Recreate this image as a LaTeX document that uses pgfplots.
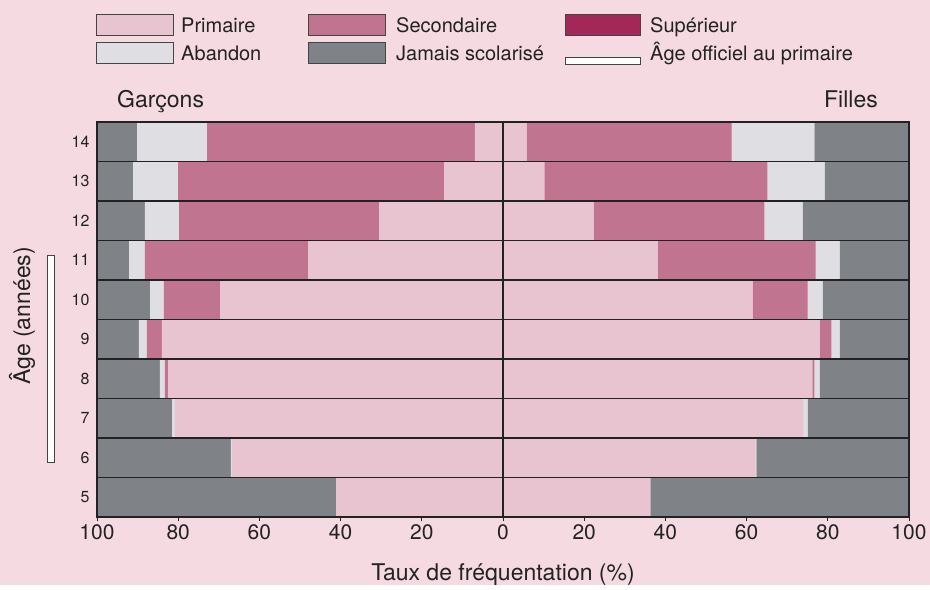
\documentclass[border=0pt]{standalone}
\usepackage{fontspec}
\setmainfont{TeX Gyre Heros}
\usepackage{pgfplots}
\usepackage{pgfplotstable}
\pgfplotsset{compat=1.18}
\definecolor{bg}{HTML}{F6DAE2}
\definecolor{cPrim}{HTML}{E7C4D0}
\definecolor{cSec}{HTML}{C1748F}
\definecolor{cSup}{HTML}{A32858}
\definecolor{cAb}{HTML}{DFDEE2}
\definecolor{cJam}{HTML}{7F8287}
\definecolor{cLine}{HTML}{222222}
\definecolor{cBox}{HTML}{444444}

\pgfplotstableread{
age prim sec sup ab jam
5  41.1 0    0 0    58.9
6  66.8 0    0 0.2  33.0
7  80.8 0    0 0.7  18.5
8  82.5 0.8  0 1.2  15.5
9  84.0 3.7  0 2.0  10.3
10 69.7 13.8 0 3.4  13.1
11 48.0 40.2 0 3.9  7.9
12 30.5 49.3 0 8.4  11.8
13 14.5 65.5 0 11.1 8.9
14 6.9  66.0 0 17.2 9.9
}\boys

\pgfplotstableread{
age prim sec sup ab jam
5  36.3 0    0 0    63.7
6  62.2 0    0 0.2  37.6
7  74.0 0    0 1.0  25.0
8  76.2 0.5  0 1.3  22.0
9  78.0 2.9  0 2.0  17.1
10 61.5 13.5 0 3.7  21.3
11 38.1 38.9 0 5.9  17.1
12 22.3 42.1 0 9.4  26.2
13 10.2 54.9 0 14.1 20.8
14 5.8  50.5 0 20.4 23.3
}\girls

\pgfplotsset{
  myax/.style={
    scale only axis, width=812pt, height=395pt,
    at={(97pt,68pt)}, anchor=south west,
    xmin=-100, xmax=100, ymin=4.5, ymax=14.5,
    xbar stacked, bar width=1,
    /pgf/number format/assume math mode=true,
  },
}

\begin{document}
\begin{tikzpicture}[x=1pt,y=1pt]
\fill[bg] (0,0) rectangle (930,585);

% Boys (left)
\begin{axis}[myax, hide axis]
\addplot[fill=cPrim, draw=none] table[y=age, x expr=-\thisrow{prim}] {\boys};
\addplot[fill=cSec,  draw=none] table[y=age, x expr=-\thisrow{sec}]  {\boys};
\addplot[fill=cSup,  draw=none] table[y=age, x expr=-\thisrow{sup}]  {\boys};
\addplot[fill=cAb,   draw=none] table[y=age, x expr=-\thisrow{ab}]   {\boys};
\addplot[fill=cJam,  draw=none] table[y=age, x expr=-\thisrow{jam}]  {\boys};
\end{axis}

% Girls (right) + frame
\begin{axis}[myax, axis on top, clip=false,
  axis line style={line width=2.4pt, color=cLine},
  xtick={-100,-80,...,100},
  xticklabels={100,80,60,40,20,0,20,40,60,80,100},
  xtick pos=bottom, ytick pos=left,
  tick align=outside, major tick length=4pt,
  xtick style={line width=0.8pt, color=cLine},
  ytick={5,...,14}, ytick style={draw=none},
  xticklabel style={font=\fontsize{21}{24}\selectfont, text=cLine},
  yticklabel style={font=\fontsize{16}{19}\selectfont, text=cLine},
  extra y ticks={5.5,6.5,...,13.5}, extra y tick labels={},
  extra y tick style={grid=major, major grid style={line width=1.3pt, color=cLine}, tick style={draw=none}},
  extra x ticks={0}, extra x tick labels={},
  extra x tick style={grid=major, major grid style={line width=1.3pt, color=cLine}},
  xlabel={Taux de fréquentation (\%)},
  every axis x label/.style={at={(axis description cs:0.5,-0.162)}, anchor=base, font=\fontsize{23}{27}\selectfont, text=cLine},
  ylabel={Âge (années)},
  every axis y label/.style={at={(axis description cs:-0.0924,0.509)}, rotate=90, anchor=center, font=\fontsize{23}{27}\selectfont, text=cLine},
]
\addplot[fill=cPrim, draw=none] table[y=age, x=prim] {\girls};
\addplot[fill=cSec,  draw=none] table[y=age, x=sec]  {\girls};
\addplot[fill=cSup,  draw=none] table[y=age, x=sup]  {\girls};
\addplot[fill=cAb,   draw=none] table[y=age, x=ab]   {\girls};
\addplot[fill=cJam,  draw=none] table[y=age, x=jam]  {\girls};
\draw[fill=white, draw=cBox, line width=1pt] ([xshift=-49pt]axis cs:-100,5.89) rectangle ([xshift=-42pt]axis cs:-100,11.13);
\end{axis}

% Group labels
\node[anchor=base west, font=\fontsize{23}{27}\selectfont, text=cLine, inner sep=0] at (117,477) {Garçons};
\node[anchor=base east, font=\fontsize{23}{27}\selectfont, text=cLine, inner sep=0] at (878,477) {Filles};

% Legend
\begin{scope}[font=\fontsize{20}{24}\selectfont, text=cLine]
\draw[fill=cPrim, draw=cBox, line width=1pt] (96,549) rectangle (173,570);
\node[anchor=base west, inner sep=0] at (181,552) {Primaire};
\draw[fill=cSec, draw=cBox, line width=1pt] (308,549) rectangle (385,570);
\node[anchor=base west, inner sep=0] at (396,552) {Secondaire};
\draw[fill=cSup, draw=cBox, line width=1pt] (565,549) rectangle (640,570);
\node[anchor=base west, inner sep=0] at (650,552) {Supérieur};
\draw[fill=cAb, draw=cBox, line width=1pt] (96,521) rectangle (173,542);
\node[anchor=base west, inner sep=0] at (181,524) {Abandon};
\draw[fill=cJam, draw=cBox, line width=1pt] (308,521) rectangle (385,542);
\node[anchor=base west, inner sep=0] at (396,524) {Jamais scolarisé};
\draw[fill=white, draw=cBox, line width=1pt] (565,520) rectangle (640,527);
\node[anchor=base west, inner sep=0] at (650,524) {Âge officiel au primaire};
\end{scope}
\end{tikzpicture}
\end{document}
